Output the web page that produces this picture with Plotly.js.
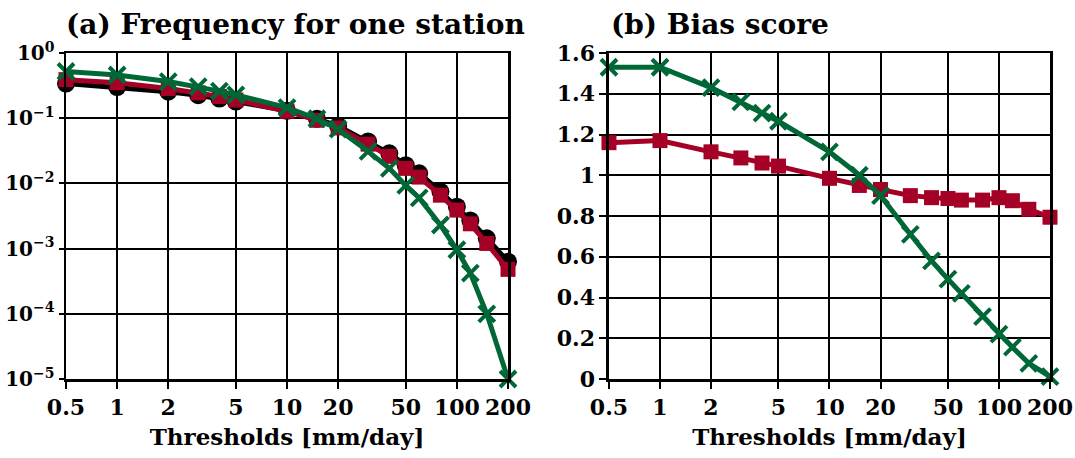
<!DOCTYPE html>
<html><head><meta charset="utf-8">
<script src="https://cdn.plot.ly/plotly-3.0.1.min.js"></script>
<style>body{margin:0;background:#fff}#c{width:1075px;height:458px}</style>
</head><body><div id="c"></div>
<script>
const thresholds = [0.5,1,2,3,4,5,10,15,20,30,40,50,60,80,100,120,150,200];
const freqObs   = [0.34,0.30,0.255,0.225,0.20,0.18,0.13,0.098,0.076,0.044,0.029,0.019,0.0143,0.0075,0.0044,0.0027,0.00144,0.00063];
const freqRed   = [0.39,0.35,0.285,0.245,0.215,0.19,0.128,0.093,0.071,0.040,0.026,0.017,0.0125,0.0066,0.0039,0.0024,0.0012,0.00048];
const freqGreen = [0.52,0.46,0.365,0.305,0.26,0.228,0.145,0.098,0.068,0.031,0.017,0.0093,0.006,0.0023,0.00096,0.00042,0.0001,0.00001];
const biasRed   = [1.16,1.17,1.115,1.085,1.06,1.045,0.985,0.95,0.93,0.90,0.89,0.886,0.878,0.878,0.89,0.875,0.833,0.794];
const biasGreen = [1.53,1.53,1.43,1.36,1.305,1.265,1.115,1.0,0.9,0.71,0.58,0.49,0.42,0.306,0.22,0.156,0.077,0.012];
const xTicks = [0.5,1,2,5,10,20,50,100,200];
const xTickText = ['0.5','1','2','5','10','20','50','100','200'];
const yLogTicks = [1,0.1,0.01,0.001,0.0001,0.00001];
const yLogText = ['10<sup>0</sup>','10<sup>−1</sup>','10<sup>−2</sup>','10<sup>−3</sup>','10<sup>−4</sup>','10<sup>−5</sup>'];
const xTitle = 'Thresholds [mm/day]';

const GREEN = '#006837', RED = '#a50026', BLACK = '#000000';
const F = 'DejaVu Serif, serif';

function line(x, y, color, sym, size, xa, ya) {
  const m = {symbol: sym, size: size, color: color};
  if (sym.startsWith('x-thin')) m.line = {color: color, width: 4};
  return {x: x, y: y, xaxis: xa, yaxis: ya, mode: 'lines+markers',
    line: {color: color, width: 5}, marker: m, showlegend: false, cliponaxis: false};
}

const data = [
  line(thresholds, freqObs, BLACK, 'circle', 18, 'x', 'y'),
  line(thresholds, freqRed, RED, 'square', 15, 'x', 'y'),
  line(thresholds, freqGreen, GREEN, 'x-thin', 16, 'x', 'y'),
  line(thresholds, biasRed, RED, 'square', 15, 'x2', 'y2'),
  line(thresholds, biasGreen, GREEN, 'x-thin', 16, 'x2', 'y2'),
];

const tickFont = {family: F, size: 22, color: '#000', weight: 'bold'};
function xax(dom, anchor) {
  return {domain: dom, anchor: anchor, type: 'log', range: [Math.log10(0.5), Math.log10(200)],
    tickvals: xTicks, ticktext: xTickText, tickfont: tickFont,
    showgrid: true, gridcolor: '#000', gridwidth: 2,
    showline: true, linecolor: '#000', linewidth: 2.5, mirror: true,
    ticks: 'outside', ticklen: 7, tickwidth: 2, tickcolor: '#000',
    zeroline: false,
    title: {text: xTitle, font: {family: F, size: 23, color: '#000', weight: 'bold'}, standoff: 10}};
}
const yCommon = {showgrid: true, gridcolor: '#000', gridwidth: 2,
    showline: true, linecolor: '#000', linewidth: 2.5, mirror: true,
    ticks: 'outside', tickwidth: 2, tickcolor: '#000', zeroline: false};
const layout = {
  width: 1075, height: 458,
  margin: {l: 66, r: 25, t: 53, b: 79},
  paper_bgcolor: '#fff', plot_bgcolor: '#fff',
  xaxis: xax([0, 0.4492], 'y'),
  xaxis2: xax([0.5518, 1], 'y2'),
  yaxis: Object.assign({domain: [0, 1], anchor: 'x', type: 'log', range: [-5, 0],
    tickvals: yLogTicks, ticktext: yLogText, ticklen: 5,
    tickfont: {family: F, size: 20, color: '#000', weight: 'bold'}}, yCommon),
  yaxis2: Object.assign({domain: [0, 1], anchor: 'x2', range: [0, 1.6], dtick: 0.2, tick0: 0,
    ticklen: 7, tickfont: tickFont}, yCommon),
  annotations: [
    {text: '(a) Frequency for one station', xref: 'paper', yref: 'paper', x: 0, y: 1, xshift: -2, yshift: 10,
     xanchor: 'left', yanchor: 'bottom', showarrow: false, font: {family: F, size: 28, color: '#000', weight: 'bold'}},
    {text: '(b) Bias score', xref: 'paper', yref: 'paper', x: 0.5518, y: 1, xshift: 0, yshift: 10,
     xanchor: 'left', yanchor: 'bottom', showarrow: false, font: {family: F, size: 28, color: '#000', weight: 'bold'}}
  ]
};
Plotly.newPlot('c', data, layout, {staticPlot: true});
</script></body></html>
